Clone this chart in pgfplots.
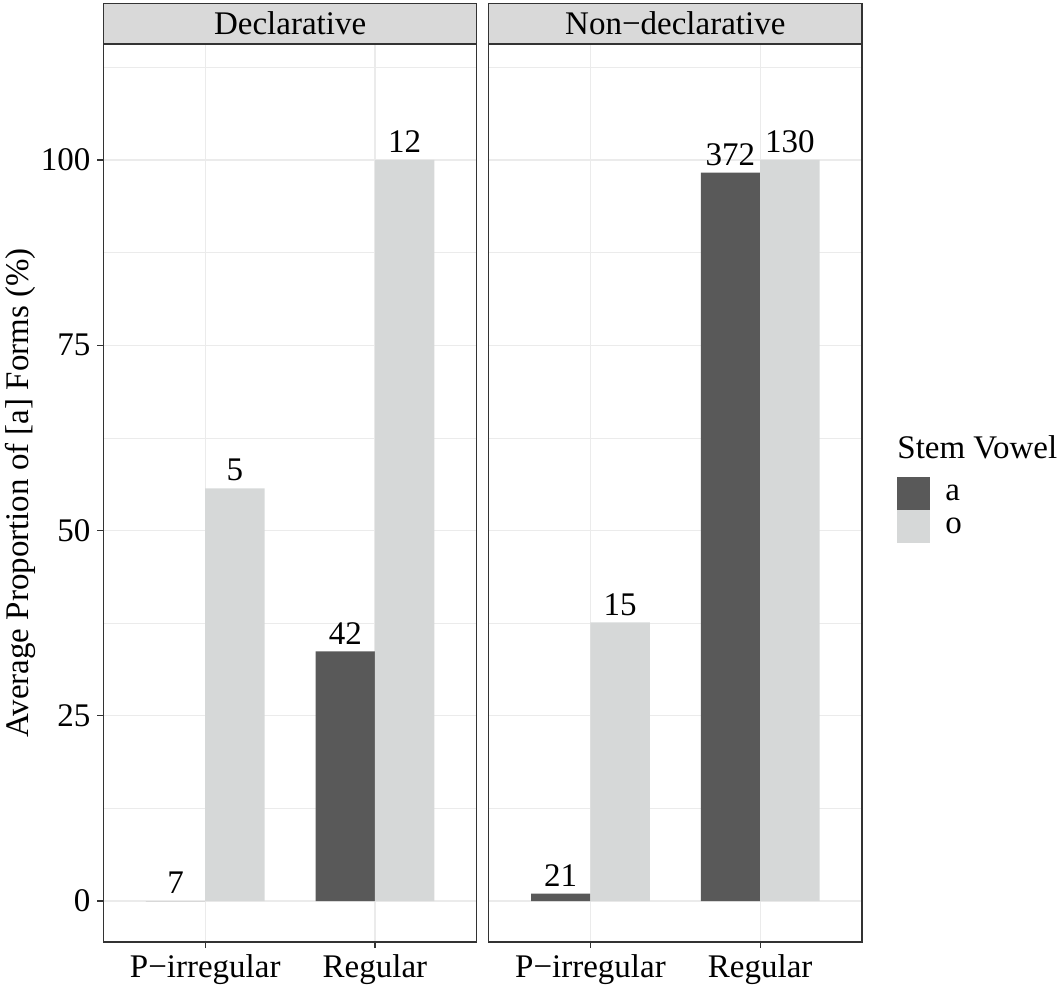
\documentclass[border=0pt]{standalone}
\usepackage{fontspec}
\setmainfont{Liberation Serif}
\usepackage{pgfplots}
\usepackage{pgfplotstable}
\pgfplotsset{compat=1.18}

\definecolor{barA}{HTML}{595959}
\definecolor{barO}{HTML}{D6D8D8}
\definecolor{stripfill}{HTML}{D9D9D9}
\definecolor{grey20}{HTML}{333333}
\definecolor{grey92}{HTML}{EBEBEB}

% x, proportion a, n a, proportion o, n o
\pgfplotstableread{
x  a     na   o     no
1  0     7    55.7  5
2  33.7  42   100   12
}\decl
\pgfplotstableread{
x  a     na   o     no
1  1.0   21   37.6  15
2  98.3  372  100   130
}\nondecl

\pgfplotsset{
  panel/.style={
    scale only axis,
    width=186.7pt, height=449pt,
    anchor=south west,
    xmin=0.4, xmax=2.6, ymin=-5.53, ymax=115.65,
    xtick={1,2}, xticklabels={P−irregular, Regular},
    ytick={0,25,50,75,100},
    minor ytick={12.5,37.5,62.5,87.5,112.5},
    xtick pos=bottom, ytick pos=left,
    ymajorgrids, yminorgrids, xmajorgrids,
    major grid style={grey92, line width=0.55pt},
    minor grid style={grey92, line width=0.3pt},
    axis line style={grey20, line width=0.6pt},
    tick align=outside,
    major tick length=3pt,
    minor tick length=0pt,
    x tick style={grey20, line width=0.55pt},
    /pgf/number format/assume math mode=true,
    ybar, bar width=0.35, bar shift=0pt,
    nodes near coords,
    point meta=explicit symbolic,
    every node near coord/.style={anchor=south, black},
    every axis title shift=0pt,
    title style={at={(0.5,1)}, anchor=south, fill=stripfill, draw=grey20,
      line width=0.6pt, minimum width=186.7pt, minimum height=20pt,
      inner sep=0pt},
  },
}

\begin{document}
\begin{tikzpicture}[font=\fontsize{16.5}{19}\selectfont]
\path[use as bounding box] (0,0) rectangle (529pt,496pt);

\begin{axis}[panel, at={(51.7pt,25pt)}, title={Declarative},
  y tick style={grey20, line width=0.55pt},
  ylabel={Average Proportion of [a] Forms (\%)},
  every axis y label/.style={at={(axis description cs:-0.2234,0.5)},
    rotate=90, anchor=center}]
  \addplot[fill=barA, draw=none]
    table[x expr=\thisrow{x}-0.175, y=a, meta=na] {\decl};
  \addplot[fill=barO, draw=none]
    table[x expr=\thisrow{x}+0.175, y=o, meta=no] {\decl};
\end{axis}

\begin{axis}[panel, at={(244.3pt,25pt)}, title={Non−declarative},
  yticklabels={}, y tick style={draw=none},
  legend cell align=left,
  legend image code/.code={\fill[#1] (0pt,-8.25pt) rectangle (16.5pt,8.25pt);},
  legend style={at={(axis description cs:1.0937,0.5178)}, anchor=north west,
    draw=none, fill=none, inner sep=0pt, row sep=0pt, column sep=7.5pt,
    nodes={inner sep=0pt},
    label={[anchor=south west, inner sep=0pt, yshift=9pt]north west:Stem Vowel}}]
  \addplot[fill=barA, draw=none]
    table[x expr=\thisrow{x}-0.175, y=a, meta=na] {\nondecl};
  \addplot[fill=barO, draw=none]
    table[x expr=\thisrow{x}+0.175, y=o, meta=no] {\nondecl};
  \legend{a, o}
\end{axis}
\end{tikzpicture}
\end{document}
